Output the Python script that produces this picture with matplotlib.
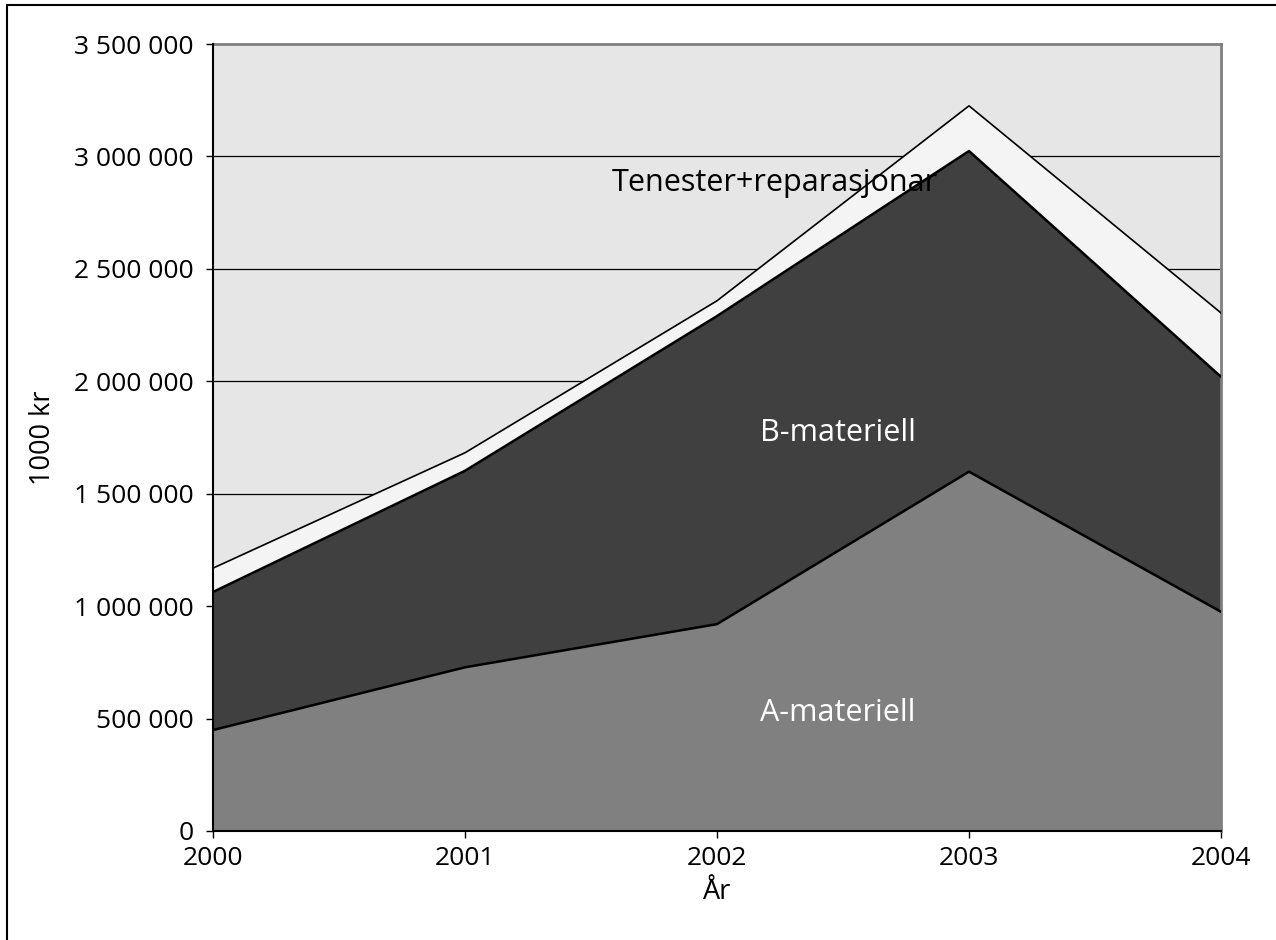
import matplotlib
matplotlib.use("Agg")
import matplotlib.pyplot as plt
from matplotlib.ticker import FuncFormatter
from matplotlib.patches import Rectangle
import numpy as np

years = [2000, 2001, 2002, 2003, 2004]
a_materiell = [449000, 728000, 920000, 1598000, 975000]
b_materiell = [614000, 874000, 1370000, 1426000, 1045000]
tenester = [106000, 80000, 68000, 201000, 284000]
yticks = [0, 500000, 1000000, 1500000, 2000000, 2500000, 3000000, 3500000]

plt.rcParams['font.family'] = ['Open Sans', 'DejaVu Sans']

fig = plt.figure(figsize=(12.76, 9.40), dpi=100)
ax = fig.add_axes([213/1276, 1 - 831/940, (1221-213)/1276, (831-44)/940])

# figure border (left and top only visible)
fig.patches.append(Rectangle((7/1276, -0.1), 1.2, 1 - 5/940 + 0.1, transform=fig.transFigure,
                             fill=False, edgecolor='black', linewidth=1.5))

ax.set_facecolor('#e6e6e6')

ax.stackplot(years, a_materiell, b_materiell, tenester,
             colors=['#808080', '#404040', '#f4f4f4'], linewidth=0, zorder=1)

for yv in yticks[1:-1]:
    ax.axhline(yv, color='black', linewidth=0.9, zorder=0.5)

ab = np.array(a_materiell) + np.array(b_materiell)
tot = ab + np.array(tenester)
ax.plot(years, a_materiell, color='black', linewidth=1.8, zorder=3)
ax.plot(years, ab, color='black', linewidth=1.8, zorder=3)
ax.plot(years, tot, color='black', linewidth=1.2, zorder=3)

ax.set_xlim(2000, 2004)
ax.set_ylim(0, 3500000)
ax.set_xticks(years)
ax.set_yticks(yticks)
ax.yaxis.set_major_formatter(FuncFormatter(lambda v, p: f"{int(v):,}".replace(",", " ")))

for s in ['top', 'right']:
    ax.spines[s].set_color('#808080')
    ax.spines[s].set_linewidth(2)
for s in ['left', 'bottom']:
    ax.spines[s].set_color('black')
    ax.spines[s].set_linewidth(1.5)
ax.spines['top'].set_zorder(0.6)

ax.tick_params(axis='both', direction='out', length=5, width=1, labelsize=19, colors='black')
ax.tick_params(axis='y', pad=9)
ax.tick_params(axis='x', pad=6)

ax.set_ylabel('1000 kr', fontsize=19.5, labelpad=12)
ax.set_xlabel('År', fontsize=19.5, labelpad=5)

ax.text(2002.23, 2880000, 'Tenester+reparasjonar', fontsize=22, color='black', ha='center', va='center', zorder=4)
ax.text(2002.48, 1770000, 'B-materiell', fontsize=22, color='white', ha='center', va='center', zorder=4)
ax.text(2002.48, 525000, 'A-materiell', fontsize=22, color='white', ha='center', va='center', zorder=4)

fig.savefig('out.png', dpi=100)
